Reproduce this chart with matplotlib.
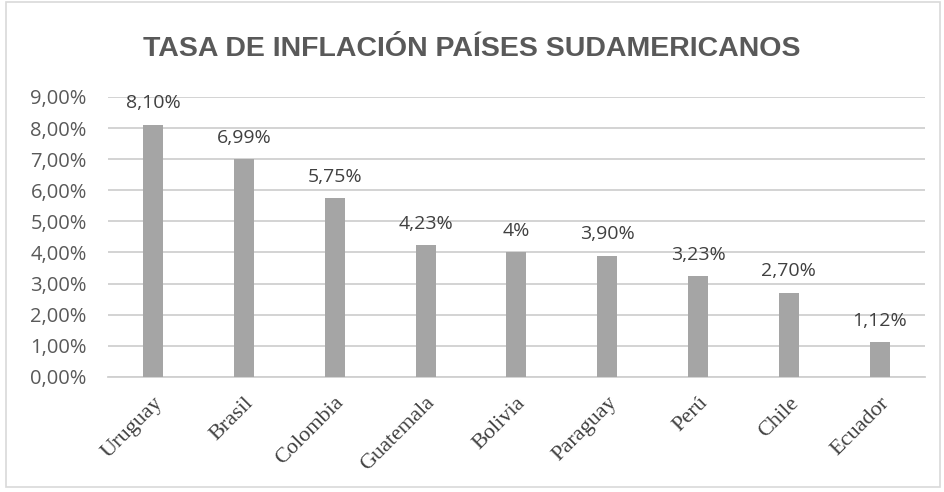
import matplotlib.pyplot as plt
from matplotlib.patches import Rectangle

paises = ['Uruguay', 'Brasil', 'Colombia', 'Guatemala', 'Bolivia',
          'Paraguay', 'Perú', 'Chile', 'Ecuador']
inflacion = [8.10, 6.99, 5.75, 4.23, 4.00, 3.90, 3.23, 2.70, 1.12]
etiquetas = ['8,10%', '6,99%', '5,75%', '4,23%', '4%', '3,90%', '3,23%', '2,70%', '1,12%']
yticks = list(range(0, 10))

gris_texto = '#595959'

fig = plt.figure(figsize=(9.44, 4.92), dpi=100)
fig.patches.append(Rectangle((0.006, 0.01), 0.99, 0.985, transform=fig.transFigure,
                             fill=False, edgecolor='#d9d9d9', linewidth=1.2))
ax = fig.add_axes([0.114, 0.234, 0.866, 0.569])

x = list(range(len(paises)))
ax.bar(x, inflacion, width=0.22, color='#a5a5a5', zorder=3)

for xi, v, t in zip(x, inflacion, etiquetas):
    ax.annotate(t, (xi, v), xytext=(0, 9), textcoords='offset points',
                ha='center', va='bottom', fontsize=14, color='#404040',
                family='Open Sans')

ax.set_xlim(-0.5, len(paises) - 0.5)
ax.set_ylim(0, 9)
ax.set_yticks(yticks)
ax.set_yticklabels(['%d,00%%' % t for t in yticks], fontsize=14.5,
                   color=gris_texto, family='Open Sans')
ax.yaxis.grid(True, color='#d0d0d0', linewidth=1.3, zorder=0)
ax.tick_params(axis='y', length=0, pad=15)
ax.tick_params(axis='x', length=0, pad=12)

ax.set_xticks(x)
ax.set_xticklabels(paises, rotation=45, ha='right', rotation_mode='anchor',
                   fontsize=16, color='#404040', family='Liberation Serif')

for s in ['top', 'right', 'left']:
    ax.spines[s].set_visible(False)
ax.spines['bottom'].set_color('#d0d0d0')
ax.spines['bottom'].set_linewidth(1.3)

fig.text(0.5, 0.9, 'TASA DE INFLACIÓN PAÍSES SUDAMERICANOS', ha='center', va='center',
         fontsize=20.5, fontweight='bold', color=gris_texto, family='Liberation Sans')

fig.savefig('out.png', dpi=100)
